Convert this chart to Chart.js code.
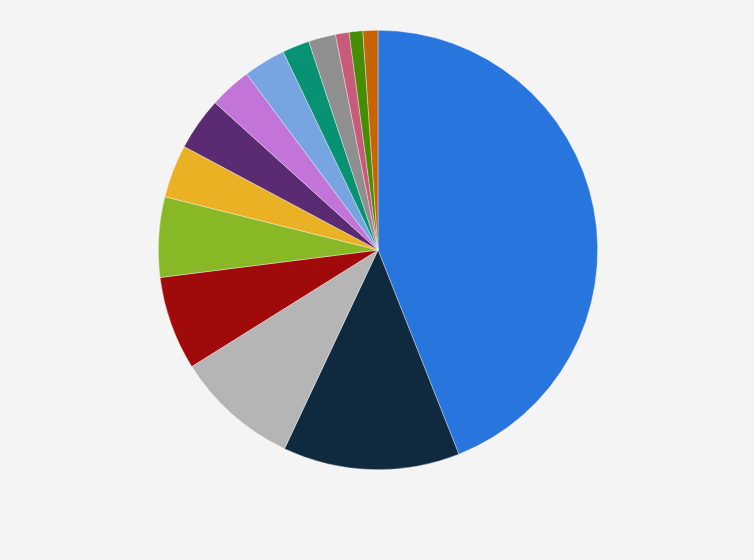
<!DOCTYPE html>
<html>
<head>
<meta charset="utf-8">
<script src="https://cdn.jsdelivr.net/npm/chart.js@4/dist/chart.umd.min.js"></script>
<style>
  html, body { margin: 0; padding: 0; background: #f4f4f4; }
  #wrap { width: 754px; height: 560px; }
</style>
</head>
<body>
<div id="wrap"><canvas id="pieChart"></canvas></div>
<script>
// slices, clockwise from 12 o'clock (shares in %)
var categories = ['Slice 1', 'Slice 2', 'Slice 3', 'Slice 4', 'Slice 5', 'Slice 6', 'Slice 7',
                  'Slice 8', 'Slice 9', 'Slice 10', 'Slice 11', 'Slice 12', 'Slice 13', 'Slice 14'];
var shares = [44.0, 13.0, 9.1, 6.9, 5.9, 3.9, 3.9, 3.1, 3.1, 2.0, 2.0, 1.0, 1.0, 1.1];
var colors = ['#2876dd', '#0f2a3f', '#b5b5b5', '#a10a0a', '#88b825', '#ebb125', '#5a2a72',
              '#c274d9', '#76a5e2', '#079273', '#8f8f8f', '#c85a7a', '#468c04', '#c86408'];

var ctx = document.getElementById('pieChart').getContext('2d');
var myChart = new Chart(ctx, {
  type: 'pie',
  data: {
    labels: categories,
    datasets: [{
      data: shares,
      backgroundColor: colors,
      borderColor: 'rgba(255,255,255,0.6)',
      borderWidth: 0.6
    }]
  },
  options: {
    responsive: true,
    maintainAspectRatio: false,
    animation: false,
    layout: { padding: { top: 30, bottom: 90, left: 2, right: 0 } },
    plugins: {
      legend: { display: false },
      tooltip: { enabled: false }
    }
  }
});
</script>
</body>
</html>
